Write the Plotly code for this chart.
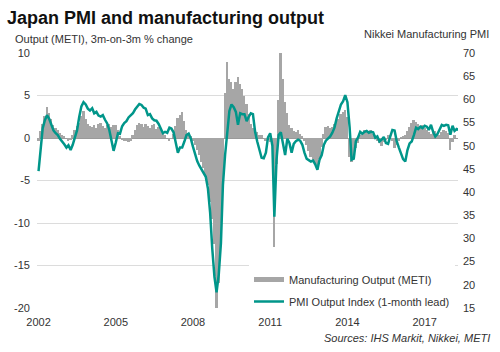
import pandas as pd
import plotly.graph_objects as go

# Manufacturing output (METI), 3m-on-3m % change, monthly from Jan 2002
output_2002 = [-0.3, 0.8, 1.6, 2.6, 3.6, 3.0, 2.2, 1.5, 1.2, 1.0, 0.6, 0.4]
output_2003 = [0.2, 0.0, -0.3, -0.2, 0.3, 0.9, 1.4, 1.8, 2.6, 3.2, 2.2, 1.6]
output_2004 = [1.4, 1.3, 1.5, 1.2, 1.6, 1.8, 1.4, 1.2, 1.5, 1.6, 1.3, 1.5]
output_2005 = [1.5, 1.0, 0.2, -0.2, -0.4, -0.3, -0.5, -0.3, 0.3, 1.0, 1.5, 1.8]
output_2006 = [1.6, 1.3, 1.7, 1.4, 1.2, 1.5, 1.6, 1.1, 1.3, 0.9, 0.6, 0.3]
output_2007 = [0.0, -0.3, -0.1, 0.5, 1.4, 2.4, 2.7, 3.1, 2.0, 0.9, 0.6, 0.2]
output_2008 = [-0.3, -0.8, -1.4, -2.0, -2.8, -3.5, -4.5, -5.5, -7.5, -9.5, -12.5, -20.0]
output_2009 = [-17.0, -12.6, -6.0, 5.3, 9.0, 7.0, 6.6, 5.8, 6.6, 7.2, 6.4, 5.8]
output_2010 = [5.0, 4.0, 2.8, 1.6, 1.2, 0.9, 0.7, 0.4, 0.3, 0.0, -0.3, -0.2]
output_2011 = [-0.5, -0.8, -12.8, -3.0, 4.5, 10.0, 7.0, 4.2, 3.0, 1.5, 1.2, 0.8]
output_2012 = [0.7, 0.9, 0.5, 0.2, -0.4, -0.8, -1.5, -2.2, -2.6, -3.0, -3.2, -2.5]
output_2013 = [-1.0, 0.5, 1.3, 1.4, 1.2, 1.3, 1.6, 2.0, 2.2, 2.8, 3.1, 3.3]
output_2014 = [2.5, -2.2, -2.8, -2.5, -1.2, -0.6, 0.3, 0.7, 0.9, 0.8, 0.6, 0.9]
output_2015 = [0.5, 0.4, -0.3, -0.6, -0.9, -0.5, -0.2, 0.3, 0.4, -0.3, -1.2, -0.8]
output_2016 = [-0.3, 0.1, 0.2, 0.4, 0.8, 1.3, 1.8, 2.1, 1.9, 1.6, 1.4, 1.5]
output_2017 = [1.2, 0.9, 0.7, 0.5, 1.0, 0.8, 0.3, 0.4, 0.7, 0.9, 0.8, 0.6]
output_2018 = [-1.4, -0.5, 0.3]

# Nikkei PMI Output Index (1-month lead), monthly from Jan 2002
pmi_2002 = [44.5, 50.0, 53.8, 55.5, 56.6, 55.8, 54.7, 53.3, 52.7, 52.3, 51.5, 51.0]
pmi_2003 = [50.3, 49.6, 50.1, 49.1, 50.2, 51.8, 53.3, 56.2, 58.5, 59.4, 58.9, 58.0]
pmi_2004 = [57.6, 58.1, 57.0, 57.3, 56.5, 56.3, 56.6, 55.6, 54.8, 53.4, 51.2, 48.9]
pmi_2005 = [50.7, 52.7, 52.6, 54.2, 54.9, 55.3, 56.1, 56.6, 57.0, 57.8, 58.5, 59.0]
pmi_2006 = [58.8, 58.2, 58.0, 56.6, 56.8, 55.9, 55.5, 55.4, 54.7, 53.5, 52.7, 53.0]
pmi_2007 = [52.8, 53.9, 53.7, 52.9, 50.5, 48.5, 49.6, 49.6, 50.9, 52.3, 52.6, 51.6]
pmi_2008 = [49.8, 48.1, 46.7, 45.7, 44.8, 43.9, 43.3, 40.7, 35.5, 27.8, 21.7, 18.4]
pmi_2009 = [22.2, 29.0, 41.5, 48.0, 53.6, 57.5, 58.9, 58.3, 57.3, 54.5, 57.0, 56.8]
pmi_2010 = [56.8, 55.3, 56.2, 57.0, 56.8, 53.0, 50.9, 49.3, 47.4, 47.3, 48.5, 51.8]
pmi_2011 = [52.7, 50.0, 34.7, 47.0, 52.3, 52.9, 50.8, 48.0, 51.5, 50.6, 48.5, 50.4]
pmi_2012 = [51.0, 51.3, 51.1, 50.2, 48.5, 47.2, 46.9, 46.6, 46.8, 46.0, 44.8, 47.0]
pmi_2013 = [48.0, 50.2, 51.1, 51.6, 52.0, 52.8, 53.9, 55.9, 57.7, 58.9, 59.6, 60.9]
pmi_2014 = [59.4, 54.0, 47.0, 47.2, 51.0, 51.8, 53.0, 52.6, 53.0, 53.2, 52.8, 53.0]
pmi_2015 = [52.9, 51.7, 52.0, 50.9, 51.3, 51.9, 50.6, 50.4, 52.0, 53.4, 53.3, 51.0]
pmi_2016 = [49.6, 48.3, 47.1, 46.6, 49.0, 50.5, 50.9, 52.3, 53.9, 53.6, 54.1, 53.8]
pmi_2017 = [54.3, 54.1, 53.4, 54.5, 53.0, 52.0, 52.5, 53.5, 54.5, 54.3, 54.5, 54.4]
pmi_2018 = [52.4, 54.3, 53.2, 53.6, 53.4]

output_vals = (output_2002 + output_2003 + output_2004 + output_2005 + output_2006 +
               output_2007 + output_2008 + output_2009 + output_2010 + output_2011 +
               output_2012 + output_2013 + output_2014 + output_2015 + output_2016 +
               output_2017 + output_2018)
pmi_vals = (pmi_2002 + pmi_2003 + pmi_2004 + pmi_2005 + pmi_2006 + pmi_2007 +
            pmi_2008 + pmi_2009 + pmi_2010 + pmi_2011 + pmi_2012 + pmi_2013 +
            pmi_2014 + pmi_2015 + pmi_2016 + pmi_2017 + pmi_2018)

output_dates = pd.date_range("2002-01-01", periods=len(output_vals), freq="MS")
pmi_dates = pd.date_range("2002-01-01", periods=len(pmi_vals), freq="MS")

left_ticks = [10, 5, 0, -5, -10, -15, -20]
right_ticks = [70, 65, 60, 55, 50, 45, 40, 35, 30, 25, 20, 15]

TEAL = "#00968A"
GREY = "#A6A6A6"
FONT = "Liberation Sans, Arial, sans-serif"

W, H = 500, 352
L, R, T, B = 37, 42, 53, 44
PW, PH = W - L - R, H - T - B


def px(x):
    return (x - L) / PW


def py(y):
    return (H - B - y) / PH


fig = go.Figure()
fig.add_trace(go.Bar(
    x=output_dates, y=output_vals, marker=dict(color=GREY, line=dict(width=0)),
    name="Manufacturing Output (METI)", showlegend=False, yaxis="y"))
fig.add_trace(go.Scatter(
    x=[None], y=[None], mode="lines", line=dict(color=GREY, width=5),
    name="Manufacturing Output (METI)", legendgroup="a"))
fig.add_trace(go.Scatter(
    x=pmi_dates, y=pmi_vals, mode="lines", line=dict(color=TEAL, width=2.5),
    name="PMI Output Index (1-month lead)", yaxis="y2", legendgroup="b"))

fig.update_layout(
    width=W, height=H,
    margin=dict(l=L, r=R, t=T, b=B, autoexpand=False),
    paper_bgcolor="white", plot_bgcolor="white",
    font=dict(family=FONT, size=11, color="#333333"),
    bargap=0,
    showlegend=True,
    legend=dict(x=px(249), y=py(265), xanchor="left", yanchor="top",
                bgcolor="white", font=dict(size=11, color="#333333"),
                traceorder="grouped", tracegroupgap=3),
    xaxis=dict(type="date", range=["2001-12-10", "2018-04-19"],
               tick0="2002-01-01", dtick="M36", tickformat="%Y",
               showgrid=False, zeroline=False, showline=False, ticks="",
               ticklabelstandoff=6,
               tickfont=dict(size=11, color="#333333")),
    yaxis=dict(range=[-20, 10], tickvals=left_ticks, ticktext=[str(v) for v in left_ticks],
               showgrid=True, gridcolor="#DCDCDC", gridwidth=1,
               zeroline=True, zerolinecolor="#9A9A9A", zerolinewidth=1,
               showline=False, ticks="", ticklabelstandoff=6,
               tickfont=dict(size=11, color="#333333")),
    yaxis2=dict(range=[15, 70], tickvals=right_ticks, ticktext=[str(v) for v in right_ticks],
                overlaying="y", side="right", showgrid=False, zeroline=False,
                showline=False, ticks="", ticklabelstandoff=4,
                tickfont=dict(size=11, color="#333333")),
    annotations=[
        dict(text="<b>Japan PMI and manufacturing output</b>", xref="paper", yref="paper",
             x=px(5), y=py(18), xanchor="left", yanchor="middle", showarrow=False,
             font=dict(size=18, color="#111111", family=FONT)),
        dict(text="Output (METI), 3m-on-3m % change", xref="paper", yref="paper",
             x=px(13), y=py(39), xanchor="left", yanchor="middle", showarrow=False,
             font=dict(size=11, color="#333333")),
        dict(text="Nikkei Manufacturing PMI", xref="paper", yref="paper",
             x=px(491), y=py(34), xanchor="right", yanchor="middle", showarrow=False,
             font=dict(size=11, color="#333333")),
        dict(text="<i>Sources: IHS Markit, Nikkei, METI</i>", xref="paper", yref="paper",
             x=px(492), y=py(338), xanchor="right", yanchor="middle", showarrow=False,
             font=dict(size=11, color="#333333")),
    ],
)

fig.write_html("out.html")
